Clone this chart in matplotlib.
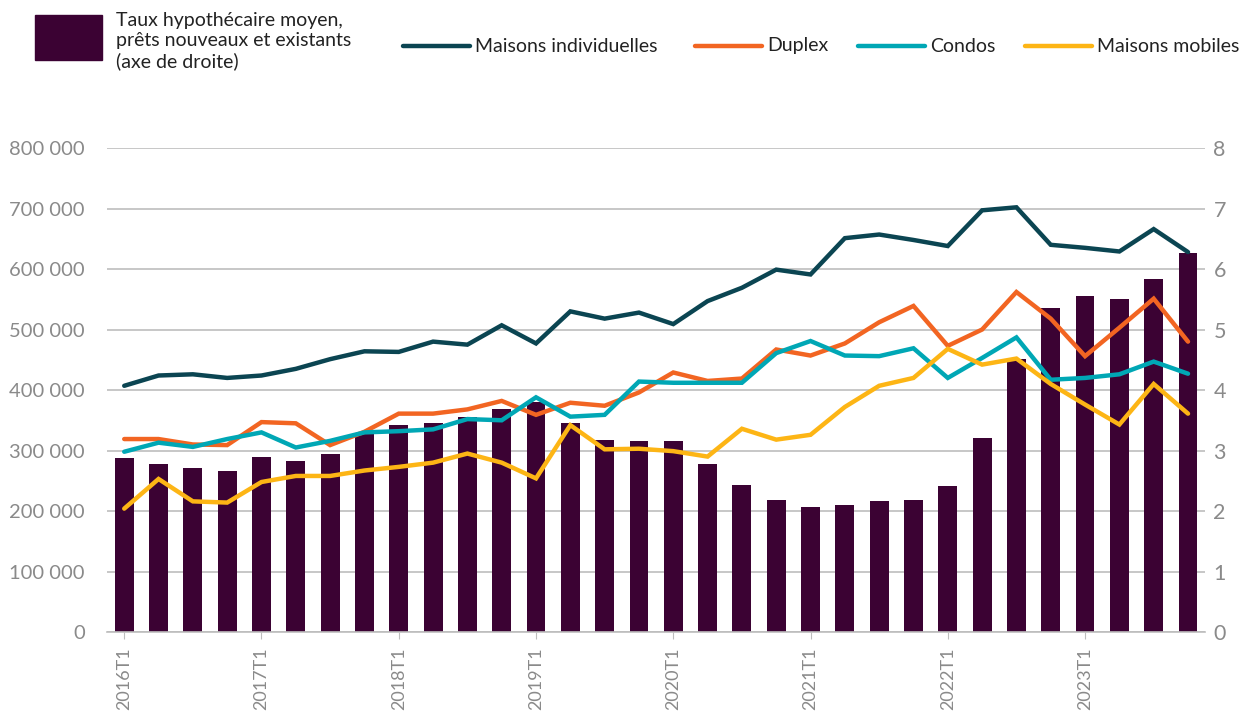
import numpy as np
import matplotlib
matplotlib.use("Agg")
import matplotlib.pyplot as plt
from matplotlib.lines import Line2D
from matplotlib.patches import Rectangle

plt.rcParams["font.family"] = ["Lato", "DejaVu Sans"]

# quarters 2016T1 .. 2023T4
years = list(range(2016, 2024))
quarters = [f"{y}T{q}" for y in years for q in range(1, 5)]

# mortgage rate (right axis, %)
taux = [2.87, 2.77, 2.71, 2.67, 2.89, 2.82, 2.95, 3.28,
        3.43, 3.45, 3.55, 3.68, 3.80, 3.45, 3.17, 3.15,
        3.15, 2.77, 2.43, 2.18, 2.06, 2.10, 2.16, 2.18,
        2.41, 3.20, 4.51, 5.35, 5.55, 5.50, 5.83, 6.27]

# average prices (left axis, $)
individuelles = [407, 424, 426, 420, 424, 435, 451, 464,
                 463, 480, 475, 507, 477, 530, 518, 528,
                 509, 547, 569, 599, 591, 651, 657, 648,
                 638, 697, 702, 640, 635, 629, 666, 628]
duplex = [319, 319, 310, 309, 347, 345, 309, 331,
          361, 361, 368, 382, 359, 379, 374, 396,
          429, 415, 419, 467, 457, 477, 512, 539,
          473, 500, 562, 518, 456, 503, 551, 480]
condos = [298, 313, 306, 319, 330, 305, 316, 330,
          332, 335, 352, 350, 388, 356, 359, 414,
          412, 412, 412, 461, 481, 457, 456, 469,
          420, 453, 487, 417, 420, 426, 447, 427]
mobiles = [204, 253, 216, 214, 248, 258, 258, 267,
           273, 280, 295, 280, 254, 342, 302, 303,
           299, 290, 336, 318, 326, 372, 407, 420,
           468, 442, 452, 410, 376, 343, 410, 361]

series = [
    ("Maisons individuelles", individuelles, "#0B4552"),
    ("Duplex", duplex, "#F26522"),
    ("Condos", condos, "#00A7B5"),
    ("Maisons mobiles", mobiles, "#FDB515"),
]
bar_color = "#3B0233"
grid_color = "#BDBDBD"
text_color = "#8A8A8A"

fig = plt.figure(figsize=(12.45, 7.15), dpi=100)
ax = fig.add_axes([0.086, 0.116, 0.882, 0.677])
x = np.arange(len(quarters))

# bars on right axis
ax.bar(x, taux, width=0.55, color=bar_color, zorder=2)
ax.set_ylim(0, 8)
ax.set_yticks(range(0, 9))
ax.set_xlim(-0.5, len(quarters) - 0.5)
ax.grid(axis="y", color=grid_color, linewidth=1.2, zorder=0)
ax.set_axisbelow(True)

# lines on left axis
ax2 = ax.twinx()
for name, vals, col in series:
    ax2.plot(x, np.array(vals) * 1000, color=col, lw=3.2,
             solid_joinstyle="miter", solid_capstyle="round", zorder=3)
ax2.set_ylim(0, 800000)
ax2.set_yticks(range(0, 800001, 100000))
ax2.set_yticklabels([f"{v:,}".replace(",", " ") for v in range(0, 800001, 100000)])
ax2.yaxis.tick_left()
ax.yaxis.tick_right()

for a in (ax, ax2):
    for s in a.spines.values():
        s.set_visible(False)
    a.tick_params(axis="y", length=0, labelcolor=text_color)
ax2.tick_params(axis="y", labelsize=14.5, pad=16)
ax.tick_params(axis="y", labelsize=15.5, pad=6)

ax.spines["bottom"].set_visible(True)
ax.spines["bottom"].set_color(grid_color)
ax.spines["bottom"].set_linewidth(1.2)

year_pos = [quarters.index(f"{y}T1") for y in years]
ax.set_xticks(year_pos)
ax.set_xticklabels([f"{y}T1" for y in years], rotation=90,
                   fontsize=13, color=text_color)
ax.tick_params(axis="x", length=5, color=grid_color, pad=6)

# legend (drawn by hand to follow the original layout)
fig.patches.append(Rectangle((35 / 1245, 1 - 60 / 715), 67 / 1245, 45 / 715,
                             transform=fig.transFigure, color=bar_color))
fig.text(116 / 1245, 1 - 12 / 715,
         "Taux hypothécaire moyen,\nprêts nouveaux et existants\n(axe de droite)",
         ha="left", va="top", fontsize=14, color="#222222", linespacing=1.2)
leg_x = [403, 695, 858, 1025]
ly = 1 - 46 / 715
for (name, vals, col), lx in zip(series, leg_x):
    fig.lines.append(Line2D([lx / 1245, (lx + 67) / 1245], [ly, ly],
                            transform=fig.transFigure, color=col, lw=3.2,
                            solid_capstyle="round"))
    fig.text((lx + 72) / 1245, ly, name, ha="left", va="center",
             fontsize=14, color="#222222")

fig.savefig("out.png", dpi=100)
